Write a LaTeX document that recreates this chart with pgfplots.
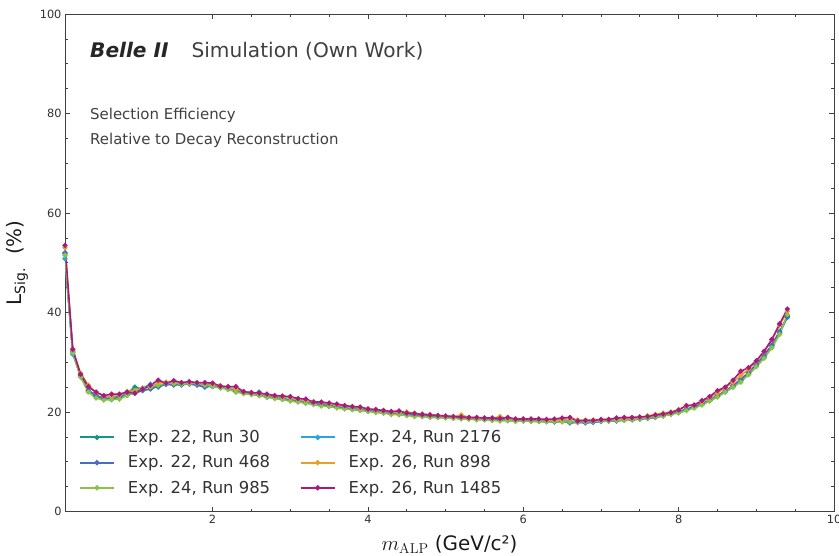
\documentclass[border=0pt]{standalone}
\usepackage[no-math]{fontspec}
\setmainfont{DejaVu Sans}
\usepackage{pgfplots}
\usepackage{pgfplotstable}
\pgfplotsset{compat=1.18}
\definecolor{cA}{RGB}{22,150,130}
\definecolor{cB}{RGB}{70,110,195}
\definecolor{cC}{RGB}{140,195,70}
\definecolor{cD}{RGB}{40,165,225}
\definecolor{cE}{RGB}{230,160,40}
\definecolor{cF}{RGB}{170,25,125}
\definecolor{txt}{RGB}{50,50,50}
\newcommand{\lf}{\fontsize{16.5}{19}\selectfont}
\pgfplotstableread{
x s1 s2 s3 s4 s5 s6
0.1 51.8 52.0 51.5 50.8 53.0 53.5
0.2 32.0 32.1 31.9 31.6 32.4 32.6
0.3 27.2 27.3 27.0 27.4 27.8 27.6
0.4 24.2 24.4 24.0 24.3 25.4 25.1
0.5 23.1 23.3 22.8 23.2 23.9 24.0
0.6 22.6 22.8 22.4 22.7 23.2 23.3
0.7 22.7 22.5 22.5 22.9 23.1 23.6
0.8 22.9 23.0 22.6 23.2 23.4 23.6
0.9 23.8 23.4 23.3 23.6 24.1 24.0
1.0 25.0 23.8 23.9 24.2 24.3 23.8
1.1 24.6 24.3 24.6 24.8 24.8 24.6
1.2 25.2 24.6 25.1 25.6 25.1 25.4
1.3 25.0 25.2 25.4 25.3 25.8 26.4
1.4 25.6 25.6 25.7 25.5 26.0 25.8
1.5 25.5 25.4 25.8 25.7 25.7 26.3
1.6 25.4 25.8 25.6 25.9 25.9 25.9
1.7 25.8 25.6 25.7 25.8 26.0 26.1
1.8 25.7 25.4 25.8 25.6 25.8 25.9
1.9 25.6 25.0 25.4 25.4 25.7 25.9
2.0 25.3 25.2 25.2 25.1 25.6 25.8
2.1 24.9 25.1 24.8 25.0 25.3 25.2
2.2 24.6 24.7 24.6 24.9 24.9 25.1
2.3 24.2 24.1 24.0 24.6 24.6 25.1
2.4 23.8 23.9 23.7 24.0 24.1 24.1
2.5 23.6 23.8 23.5 23.6 23.9 23.9
2.6 24.0 23.3 23.3 23.4 23.7 23.8
2.7 23.1 23.0 23.0 23.2 23.5 23.6
2.8 22.9 22.8 22.7 22.9 23.2 23.3
2.9 22.6 22.6 22.5 22.8 23.0 23.2
3.0 22.4 22.3 22.2 22.4 22.9 23.1
3.1 22.2 22.1 22.0 22.4 22.5 22.7
3.2 21.9 21.8 21.8 22.1 22.3 22.6
3.3 21.7 21.6 21.5 21.7 22.1 22.0
3.4 21.4 21.5 21.2 21.6 21.9 22.0
3.5 21.2 21.2 21.1 21.3 21.7 21.8
3.6 21.0 21.0 20.8 21.1 21.4 21.6
3.7 20.8 20.7 20.6 20.9 21.2 21.3
3.8 20.6 20.5 20.5 20.7 21.0 21.1
3.9 20.4 20.4 20.3 20.6 20.8 21.0
4.0 20.3 20.2 20.1 20.4 20.6 20.6
4.1 20.0 20.1 19.9 20.2 20.4 20.5
4.2 19.9 19.8 19.8 20.0 20.2 20.3
4.3 19.7 19.7 19.5 19.9 20.0 20.1
4.4 19.6 19.5 19.5 19.7 19.9 20.2
4.5 19.4 19.4 19.3 19.6 20.0 19.8
4.6 19.3 19.3 19.1 19.4 19.7 19.7
4.7 19.2 19.1 19.1 19.3 19.6 19.5
4.8 19.1 19.0 18.9 19.1 19.5 19.4
4.9 19.0 18.9 18.9 19.0 19.3 19.3
5.0 18.9 18.9 18.8 18.9 19.2 19.2
5.1 18.8 18.8 18.7 18.8 19.0 19.1
5.2 18.8 18.7 18.6 18.7 19.4 19.0
5.3 18.7 18.6 18.6 18.7 18.9 18.9
5.4 18.6 18.6 18.4 18.6 18.8 18.9
5.5 18.6 18.5 18.5 18.5 18.8 18.8
5.6 18.5 18.4 18.3 18.5 18.7 18.8
5.7 18.4 18.4 18.2 18.4 19.1 18.7
5.8 18.4 18.3 18.3 18.4 18.6 18.9
5.9 18.3 18.3 18.1 18.3 18.5 18.6
6.0 18.3 18.2 18.2 18.3 18.6 18.6
6.1 18.2 18.2 18.1 18.2 18.5 18.6
6.2 18.2 18.1 18.1 18.2 18.5 18.6
6.3 18.2 18.1 18.0 18.2 18.4 18.5
6.4 18.1 18.0 18.1 18.1 18.4 18.6
6.5 18.2 18.1 18.0 18.3 18.4 18.8
6.6 18.1 17.8 18.0 17.9 18.7 18.9
6.7 18.1 17.9 18.0 18.1 18.4 18.2
6.8 18.2 17.8 18.0 18.1 18.3 18.3
6.9 18.2 17.9 18.1 18.2 18.4 18.3
7.0 18.2 18.1 18.2 18.2 18.4 18.5
7.1 18.3 18.2 18.2 18.3 18.5 18.5
7.2 18.3 18.2 18.3 18.3 18.5 18.8
7.3 18.4 18.4 18.3 18.4 18.6 18.9
7.4 18.5 18.4 18.5 18.5 18.7 18.9
7.5 18.6 18.6 18.6 18.6 18.9 19.0
7.6 18.8 18.7 18.8 18.8 19.2 19.1
7.7 19.0 18.9 19.0 19.0 19.5 19.4
7.8 19.3 19.2 19.2 19.4 19.8 19.6
7.9 19.6 19.6 19.5 19.7 20.0 19.9
8.0 20.0 19.9 19.8 20.1 20.5 20.4
8.1 20.5 20.4 20.3 20.6 21.2 21.3
8.2 21.0 21.1 20.8 21.1 21.4 21.4
8.3 21.6 21.7 21.4 21.6 22.1 22.3
8.4 22.3 22.4 22.2 22.3 22.9 23.1
8.5 23.2 23.3 23.0 23.1 23.8 24.3
8.6 24.1 24.2 24.0 24.0 24.9 25.0
8.7 25.2 25.3 25.0 25.0 26.0 26.4
8.8 26.3 26.6 26.0 26.3 27.3 28.2
8.9 27.7 27.9 27.5 27.6 28.6 28.9
9.0 29.4 29.6 29.1 29.2 30.2 30.3
9.1 31.2 31.4 30.8 31.0 32.1 32.2
9.2 33.3 33.5 32.9 33.0 34.5 34.6
9.3 36.0 36.2 35.6 35.8 37.5 37.7
9.4 39.0 39.2 39.6 39.3 40.2 40.7
}\data
\begin{document}
\begin{tikzpicture}
\begin{axis}[
  width=769bp, height=497.5bp, scale only axis,
  xmin=0.1, xmax=10, ymin=0, ymax=100,
  xtick={2,4,6,8,10}, ytick={0,20,40,60,80,100},
  minor x tick num=3, minor y tick num=3,
  tick align=inside, major tick length=5bp, minor tick length=3bp,
  axis line style={black!75, line width=0.9bp},
  every tick/.style={black!75, line width=0.7bp},
  tick label style={font=\fontsize{11.4}{13}\selectfont, text=txt},
  /pgf/number format/assume math mode=true,
  xlabel={$m_{\mathrm{ALP}}$ (GeV/c²)},
  ylabel={L\textsubscript{Sig.}\ \ (\%)},
  label style={font=\fontsize{20}{23}\selectfont, text=black!90},
  xlabel style={at={(axis description cs:0.5,-0.066)}, anchor=center},
  ylabel style={at={(axis description cs:-0.062,0.5)}, anchor=center},
  legend columns=2,
  legend cell align=left,
  legend style={draw=none, fill=none, at={(axis description cs:0.014,0.171)}, anchor=north west,
    font=\lf, text=txt, row sep=7.5bp,
    /tikz/every odd column/.append style={column sep=11bp},
    /tikz/every even column/.append style={column sep=27.5bp}},
  legend image code/.code={\draw[line width=2bp, mark size=1.5bp, mark repeat=2,mark phase=2] plot coordinates {(0bp,0bp) (17bp,0bp) (34bp,0bp)};},
  sty/.style={line width=1.6bp, mark=*, mark size=1.7bp, mark options={solid}},
]
\addplot[sty, cA] table[x=x,y=s1]{\data};
\addlegendentry{\lf Exp. 22, Run 30}
\addplot[sty, cD] table[x=x,y=s4]{\data};
\addlegendentry{\lf Exp. 24, Run 2176}
\addplot[sty, cB] table[x=x,y=s2]{\data};
\addlegendentry{\lf Exp. 22, Run 468}
\addplot[sty, cE] table[x=x,y=s5]{\data};
\addlegendentry{\lf Exp. 26, Run 898}
\addplot[sty, cC] table[x=x,y=s3]{\data};
\addlegendentry{\lf Exp. 24, Run 985}
\addplot[sty, cF] table[x=x,y=s6]{\data};
\addlegendentry{\lf Exp. 26, Run 1485}
\node[anchor=west, inner sep=0pt, text=black!85, font=\fontsize{20.2}{23}\selectfont] at (axis description cs:0.0325,0.925) {\textbf{\textit{Belle II}}\hspace{23bp}{\color{black!75}Simulation (Own Work)}};
\node[anchor=west, inner sep=0pt, text=black!75, font=\fontsize{15}{18}\selectfont] at (axis description cs:0.0325,0.797) {Selection Efficiency};
\node[anchor=west, inner sep=0pt, text=black!75, font=\fontsize{15}{18}\selectfont] at (axis description cs:0.0325,0.745) {Relative to Decay Reconstruction};
\end{axis}
\pgfresetboundingbox
\useasboundingbox (-65bp,-44.5bp) rectangle (774bp,511.5bp);
\end{tikzpicture}
\end{document}
